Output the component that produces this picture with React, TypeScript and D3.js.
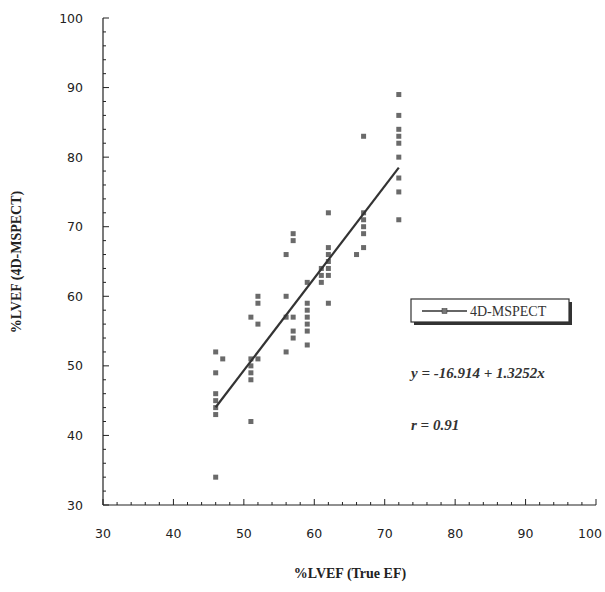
import React from "react";
import * as d3 from "d3";

const trueEF: number[] = [
  46, 46, 46, 46, 46, 46, 46,
  47,
  51, 51, 51, 51, 51, 51,
  52, 52, 52, 52,
  56, 56, 56, 56,
  57, 57, 57, 57, 57,
  59, 59, 59, 59, 59, 59, 59,
  61, 61, 61,
  62, 62, 62, 62, 62, 62, 62,
  66,
  67, 67, 67, 67, 67, 67,
  72, 72, 72, 72, 72, 72, 72, 72, 72,
];
const mspectEF: number[] = [
  52, 49, 46, 45, 44, 43, 34,
  51,
  57, 51, 50, 49, 48, 42,
  60, 59, 56, 51,
  66, 60, 57, 52,
  69, 68, 57, 55, 54,
  62, 59, 58, 57, 56, 55, 53,
  64, 63, 62,
  72, 67, 66, 65, 64, 63, 59,
  66,
  83, 72, 71, 70, 69, 67,
  89, 86, 84, 83, 82, 80, 77, 75, 71,
];
const intercept = -16.914;
const slope = 1.3252;
const fitRange: number[] = [46, 72];
const xTicks: number[] = [30, 40, 50, 60, 70, 80, 90, 100];
const yTicks: number[] = [30, 40, 50, 60, 70, 80, 90, 100];
const minorStep = 2;
const seriesName = "4D-MSPECT";
const equationText = "y = -16.914 + 1.3252x";
const rText = "r = 0.91";
const xTitle = "%LVEF (True EF)";
const yTitle = "%LVEF (4D-MSPECT)";

export default function App() {
  const W = 605;
  const H = 592;
  const x = d3.scaleLinear().domain([30, 100]).range([103, 596]);
  const y = d3.scaleLinear().domain([30, 100]).range([505, 18]);
  const minors = d3.range(30, 100.001, minorStep);
  const tickFont = "Tahoma, 'DejaVu Sans', sans-serif";
  const serif = "'Times New Roman', 'Liberation Serif', serif";
  const line = d3
    .line<number>()
    .x((d) => x(d))
    .y((d) => y(intercept + slope * d));
  const sq = 5;
  return (
    <svg
      width={W}
      height={H}
      style={{ position: "absolute", left: 0, top: 0, background: "#fff" }}
    >
      {/* axes */}
      <line x1={x(30)} x2={x(100)} y1={y(30)} y2={y(30)} stroke="#222" strokeWidth={1.2} />
      <line x1={x(30)} x2={x(30)} y1={y(30)} y2={y(100)} stroke="#222" strokeWidth={1.2} />
      {minors.map((v) => {
        const major = v % 10 === 0;
        return (
          <g key={"t" + v}>
            <line
              x1={x(v)}
              x2={x(v)}
              y1={y(30)}
              y2={y(30) - (major ? 6 : 3)}
              stroke="#222"
              strokeWidth={1}
            />
            <line
              x1={x(30)}
              x2={x(30) + (major ? 6 : 3)}
              y1={y(v)}
              y2={y(v)}
              stroke="#222"
              strokeWidth={1}
            />
          </g>
        );
      })}
      {xTicks.map((v) => (
        <text
          key={"xl" + v}
          x={Math.min(x(v), W - 15)}
          y={y(30) + 33}
          textAnchor="middle"
          fontFamily={tickFont}
          fontSize={12.5}
          fill="#222"
        >
          {v}
        </text>
      ))}
      {yTicks.map((v) => (
        <text
          key={"yl" + v}
          x={x(30) - 20}
          y={y(v) + 4.5}
          textAnchor="end"
          fontFamily={tickFont}
          fontSize={12.5}
          fill="#222"
        >
          {v}
        </text>
      ))}
      {/* points */}
      {trueEF.map((v, i) => (
        <rect
          key={"p" + i}
          x={x(v) - sq / 2}
          y={y(mspectEF[i]) - sq / 2}
          width={sq}
          height={sq}
          fill="#6a6a6a"
        />
      ))}
      {/* regression line */}
      <path d={line(fitRange) || ""} stroke="#333" strokeWidth={2.2} fill="none" />
      {/* legend */}
      <rect x={414} y={302} width={158} height={23} fill="#333" />
      <rect x={411} y={299} width={158} height={23} fill="#fff" stroke="#333" strokeWidth={1.2} />
      <line x1={422} x2={467} y1={311} y2={311} stroke="#333" strokeWidth={1.5} />
      <rect x={442} y={308.5} width={5} height={5} fill="#777" stroke="#333" strokeWidth={0.5} />
      <text x={470} y={316} fontFamily={serif} fontSize={14} fill="#333">
        {seriesName}
      </text>
      <text
        x={411}
        y={378}
        fontFamily={serif}
        fontSize={15}
        fontWeight="bold"
        fontStyle="italic"
        fill="#333"
      >
        {equationText}
      </text>
      <text
        x={411}
        y={430}
        fontFamily={serif}
        fontSize={15}
        fontWeight="bold"
        fontStyle="italic"
        fill="#333"
      >
        {rText}
      </text>
      {/* titles */}
      <text
        x={350}
        y={578}
        textAnchor="middle"
        fontFamily={serif}
        fontSize={14}
        fontWeight="bold"
        fill="#222"
      >
        {xTitle}
      </text>
      <text
        transform={`translate(21, 262) rotate(-90)`}
        textAnchor="middle"
        fontFamily={serif}
        fontSize={14}
        fontWeight="bold"
        fill="#222"
      >
        {yTitle}
      </text>
    </svg>
  );
}
